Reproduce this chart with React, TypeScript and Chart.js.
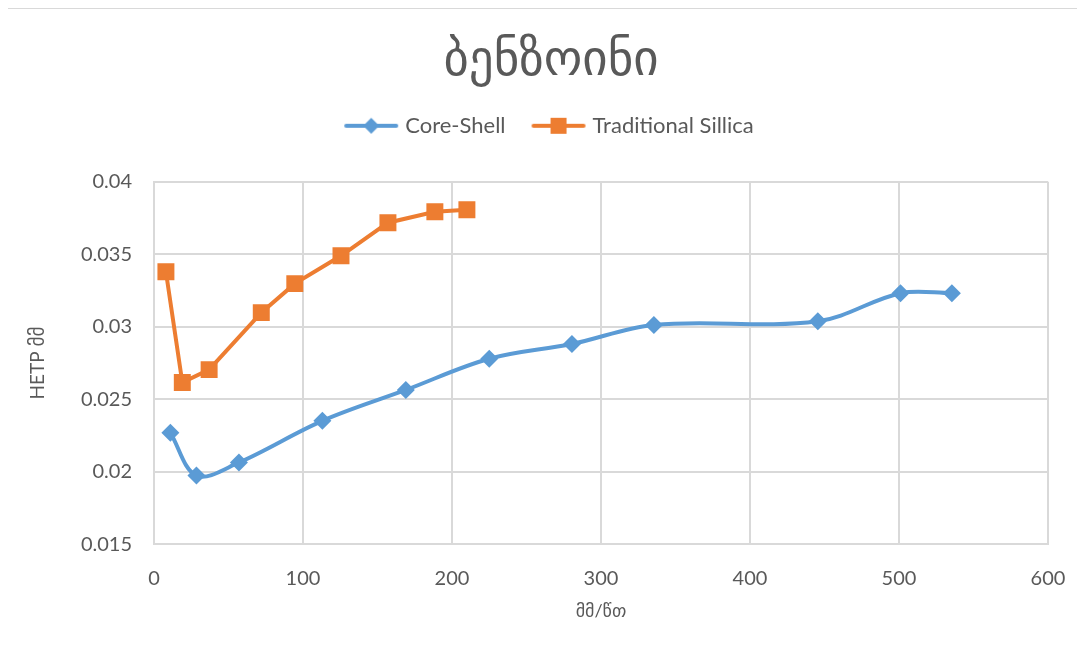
import React, { useEffect, useRef } from "react";
import { Chart, registerables } from "chart.js";

Chart.register(...registerables);

const coreShellX = [11, 28.5, 57, 113, 169, 225, 280.5, 335.5, 445.5, 501, 535.5];
const coreShellY = [0.0227, 0.01975, 0.02065, 0.02352, 0.02565, 0.0278, 0.02882, 0.03013, 0.03038, 0.03232, 0.03232];
const silicaX = [8, 19, 37, 72, 94.5, 125.5, 157, 188.5, 210];
const silicaY = [0.0338, 0.02616, 0.02705, 0.03098, 0.03298, 0.0349, 0.03718, 0.03793, 0.03808];
const seriesNames = ["Core-Shell", "Traditional Sillica"];
const titleText = "ბენზოინი";
const xTitle = "მმ/წთ";
const yTitle = "HETP მმ";

const BLUE = "#5b9bd5";
const ORANGE = "#ed7d31";
const TEXT = "#595959";
const GRID = "#d9d9d9";
const FONT = "Lato, 'DejaVu Sans', sans-serif";

function legendIcon(color: string, kind: "diamond" | "square") {
  const c = document.createElement("canvas");
  c.width = 56;
  c.height = 20;
  const ctx = c.getContext("2d")!;
  ctx.strokeStyle = color;
  ctx.lineWidth = 4;
  ctx.lineCap = "round";
  ctx.beginPath();
  ctx.moveTo(3, 10);
  ctx.lineTo(53, 10);
  ctx.stroke();
  ctx.fillStyle = color;
  ctx.beginPath();
  if (kind === "diamond") {
    ctx.moveTo(28, 2);
    ctx.lineTo(36, 10);
    ctx.lineTo(28, 18);
    ctx.lineTo(20, 10);
    ctx.closePath();
  } else {
    ctx.rect(20, 2, 16, 16);
  }
  ctx.fill();
  return c;
}

const legendMargin = {
  id: "legendMargin",
  beforeInit(chart: any) {
    const orig = chart.legend.fit;
    chart.legend.fit = function () {
      orig.bind(chart.legend)();
      this.height += 35;
    };
  },
};

export default function App() {
  const ref = useRef<HTMLCanvasElement>(null);
  useEffect(() => {
    if (!ref.current) return;
    const icons = [legendIcon(BLUE, "diamond"), legendIcon(ORANGE, "square")];
    const chart = new Chart(ref.current, {
      type: "scatter",
      plugins: [legendMargin],
      data: {
        datasets: [
          {
            label: seriesNames[0],
            data: coreShellX.map((x, i) => ({ x, y: coreShellY[i] })),
            showLine: true,
            borderColor: BLUE,
            backgroundColor: BLUE,
            borderWidth: 4,
            tension: 0.35,
            pointStyle: "rectRot",
            pointRadius: 9,
            pointHoverRadius: 9,
            pointBorderWidth: 0,
          },
          {
            label: seriesNames[1],
            data: silicaX.map((x, i) => ({ x, y: silicaY[i] })),
            showLine: true,
            borderColor: ORANGE,
            backgroundColor: ORANGE,
            borderWidth: 4,
            tension: 0,
            pointStyle: "rect",
            pointRadius: 12,
            pointHoverRadius: 12,
            pointBorderWidth: 0,
          },
        ],
      },
      options: {
        animation: false,
        responsive: false,
        maintainAspectRatio: false,
        layout: { padding: { left: 49, right: 37, top: 10, bottom: 36 } },
        plugins: {
          title: {
            display: true,
            text: titleText,
            color: TEXT,
            font: { family: "'DejaVu Sans', sans-serif", size: 49, weight: "normal" },
            padding: { top: 14, bottom: -7 },
          },
          legend: {
            display: true,
            position: "top",
            labels: {
              color: TEXT,
              font: { family: FONT, size: 22 },
              usePointStyle: true,
              pointStyleWidth: 46,
              boxHeight: 20,
              padding: 30,
              generateLabels: () =>
                seriesNames.map((n, i) => ({
                  text: n,
                  fillStyle: i === 0 ? BLUE : ORANGE,
                  strokeStyle: i === 0 ? BLUE : ORANGE,
                  lineWidth: 0,
                  pointStyle: icons[i],
                  datasetIndex: i,
                  hidden: false,
                  fontColor: TEXT,
                })) as any,
            },
          },
          tooltip: { enabled: false },
        },
        scales: {
          x: {
            type: "linear",
            min: 0,
            max: 600,
            ticks: { stepSize: 100, color: TEXT, font: { family: FONT, size: 20 }, padding: 22 },
            grid: { color: GRID, lineWidth: 2, drawTicks: false },
            border: { color: GRID, width: 2 },
            title: { display: true, text: xTitle, color: TEXT, font: { family: FONT, size: 18 }, padding: { top: -12, bottom: 0 } },
            afterFit: (s: any) => {
              s.paddingRight = 0;
            },
          },
          y: {
            type: "linear",
            min: 0.015,
            max: 0.04,
            ticks: {
              stepSize: 0.005,
              color: TEXT,
              font: { family: FONT, size: 20 },
              padding: 22,
              callback: (v: any) => parseFloat(Number(v).toFixed(3)).toString(),
            },
            grid: { color: GRID, lineWidth: 2, drawTicks: false },
            border: { color: GRID, width: 2 },
            title: { display: true, text: yTitle, color: TEXT, font: { family: FONT, size: 19 }, padding: { top: -28, bottom: 0 } },
            afterFit: (s: any) => {
              s.width = 100;
            },
          },
        },
      },
    });
    return () => chart.destroy();
  }, []);
  return (
    <div
      style={{
        marginLeft: -4,
        width: 1090,
        height: 660,
        borderLeft: "1px solid #d9d9d9",
        borderTop: "1px solid #d9d9d9",
        background: "#fff",
      }}
    >
      <canvas ref={ref} width={1080} height={649} style={{ display: "block" }} />
    </div>
  );
}
